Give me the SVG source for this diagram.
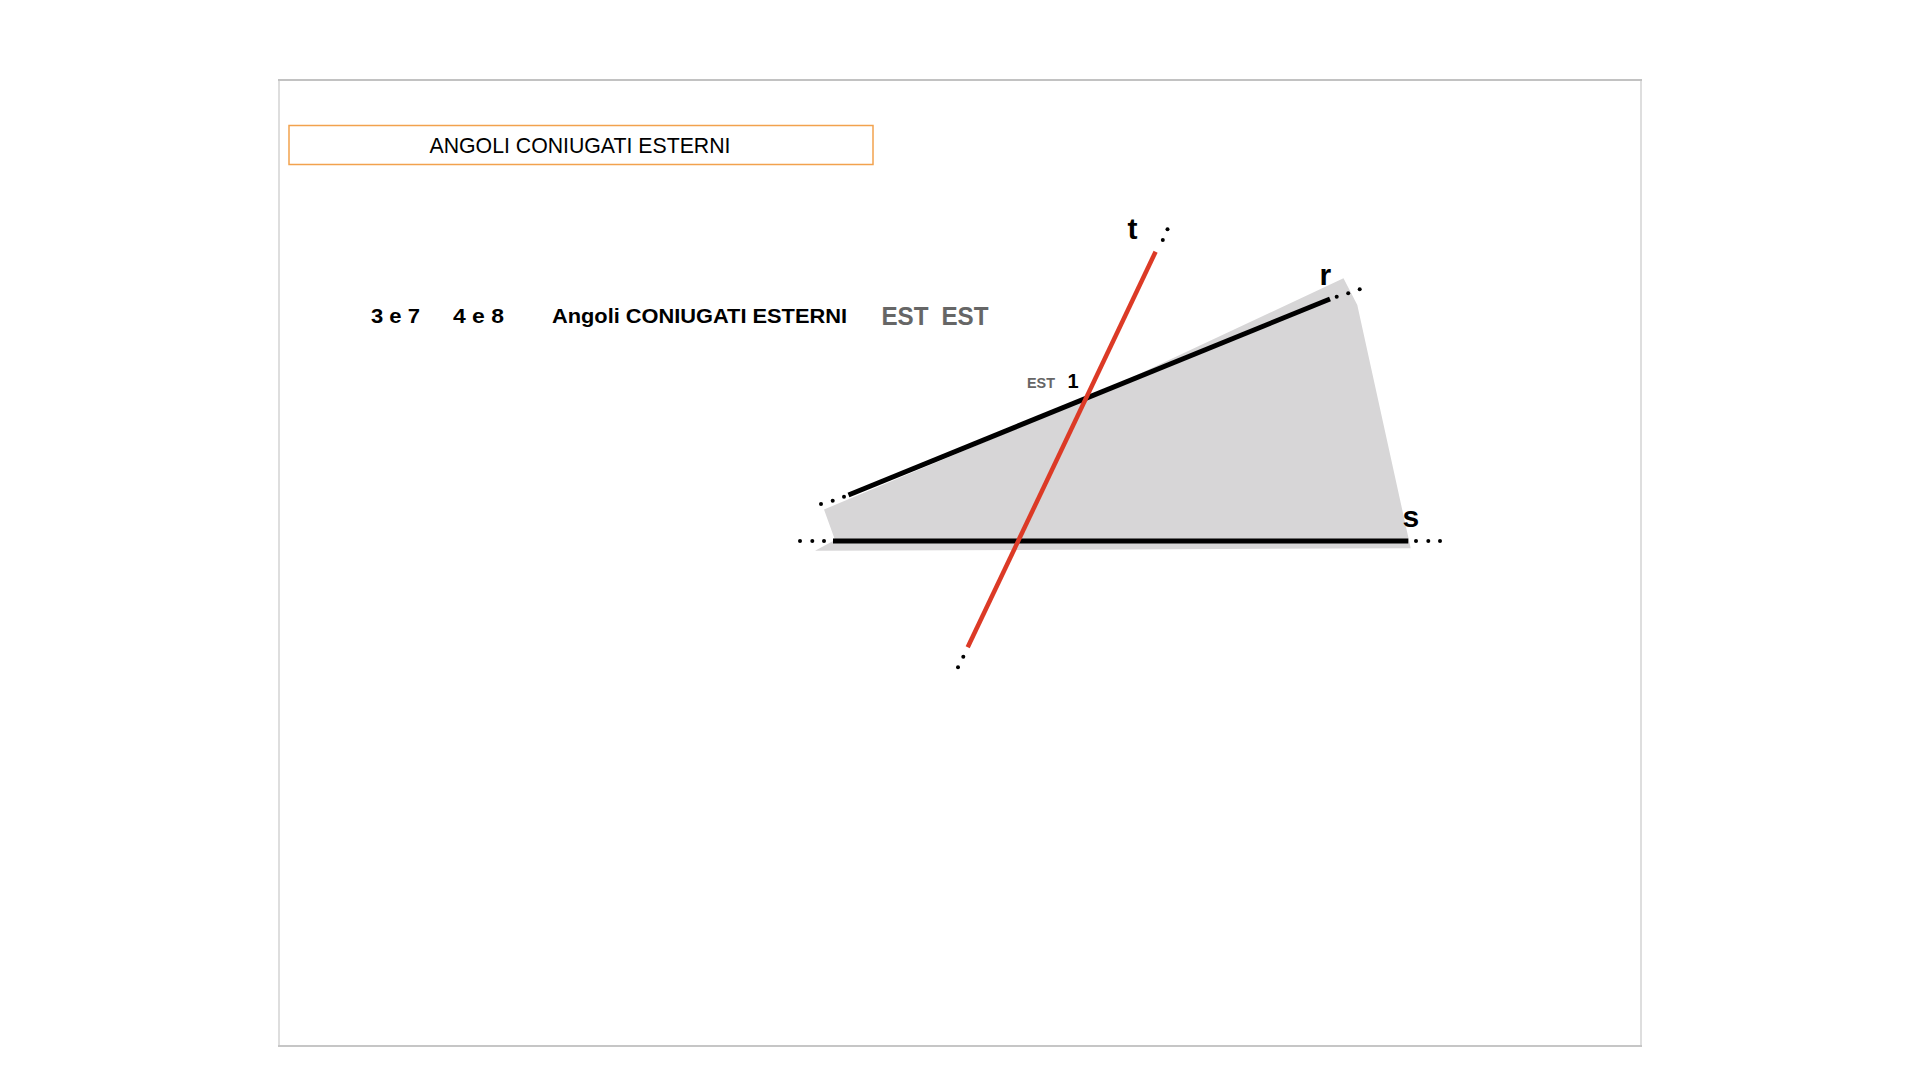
<svg xmlns="http://www.w3.org/2000/svg" width="1920" height="1080" viewBox="0 0 1920 1080">
  <style>
    .lbl { font-family: "Liberation Sans", Arial, sans-serif; font-weight: bold; }
    .dot { fill: #000; }
    .blk { stroke: #000; stroke-width: 5; fill: none; }
  </style>
  <rect x="0" y="0" width="1920" height="1080" fill="#ffffff"/>
  <g id="frame">
    <line x1="279" y1="81" x2="279" y2="1046" stroke="#dedede" stroke-width="2"/>
    <line x1="1641" y1="81" x2="1641" y2="1046" stroke="#dedede" stroke-width="2"/>
    <line x1="278" y1="80" x2="1642" y2="80" stroke="#c2c2c2" stroke-width="2"/>
    <line x1="278" y1="1046" x2="1642" y2="1046" stroke="#c6c6c6" stroke-width="2"/>
  </g>
  <g id="title">
    <rect x="289" y="125.5" width="584" height="39" fill="none" stroke="#f2a24e" stroke-width="1.5"/>
    <text x="580" y="152.7" text-anchor="middle" font-family="Liberation Sans, Arial, sans-serif" font-size="22" fill="#000" textLength="301" lengthAdjust="spacingAndGlyphs">ANGOLI CONIUGATI ESTERNI</text>
  </g>
  <g id="heading">
    <text class="lbl" x="371" y="323.3" font-size="21" textLength="49" lengthAdjust="spacingAndGlyphs">3 e 7</text>
    <text class="lbl" x="453" y="323.3" font-size="21" textLength="51" lengthAdjust="spacingAndGlyphs">4 e 8</text>
    <text class="lbl" x="552" y="323.3" font-size="21" textLength="295" lengthAdjust="spacingAndGlyphs">Angoli CONIUGATI ESTERNI</text>
    <text class="lbl" x="881.5" y="324.5" font-size="26" fill="#666666" textLength="47" lengthAdjust="spacingAndGlyphs">EST</text>
    <text class="lbl" x="941.5" y="324.5" font-size="26" fill="#666666" textLength="47" lengthAdjust="spacingAndGlyphs">EST</text>
  </g>
  <g id="region">
    <polygon points="824,509.5 835,540 815,550.7 1410.7,548.3 1357.3,305 1343.5,278.3 1075,404" fill="#d7d6d7"/>
  </g>
  <g id="connectors">
    <line id="line-r" class="blk" x1="848.5" y1="495" x2="1330" y2="299"/>
    <line id="line-s" class="blk" x1="833" y1="541" x2="1408.3" y2="541"/>
    <line id="line-t" x1="1155.6" y1="251.7" x2="967.7" y2="647.3" stroke="#dc3a26" stroke-width="4.5"/>
  </g>
  <g id="dots">
    <circle class="dot" cx="821" cy="504" r="2"/>
    <circle class="dot" cx="832.7" cy="500.7" r="2"/>
    <circle class="dot" cx="844" cy="496.7" r="2"/>
    <circle class="dot" cx="1336.7" cy="296.7" r="2"/>
    <circle class="dot" cx="1348.2" cy="293.3" r="2"/>
    <circle class="dot" cx="1359.7" cy="289.3" r="2"/>
    <circle class="dot" cx="800" cy="541" r="2"/>
    <circle class="dot" cx="812.3" cy="541" r="2"/>
    <circle class="dot" cx="824" cy="541" r="2"/>
    <circle class="dot" cx="1416" cy="541" r="2"/>
    <circle class="dot" cx="1428.3" cy="541" r="2"/>
    <circle class="dot" cx="1440" cy="541" r="2"/>
    <circle class="dot" cx="1167.5" cy="229.3" r="2"/>
    <circle class="dot" cx="1162.8" cy="240" r="2"/>
    <circle class="dot" cx="963.3" cy="656.7" r="2"/>
    <circle class="dot" cx="958" cy="667.3" r="2"/>
  </g>
  <g id="labels">
    <text class="lbl" x="1127.5" y="239.3" font-size="30">t</text>
    <text class="lbl" x="1319.5" y="285" font-size="30">r</text>
    <text class="lbl" x="1402.5" y="526.7" font-size="30">s</text>
    <text class="lbl" x="1027" y="388.3" font-size="15" fill="#666666" textLength="28" lengthAdjust="spacingAndGlyphs">EST</text>
    <text class="lbl" x="1067.5" y="388.3" font-size="20">1</text>
  </g>
</svg>
